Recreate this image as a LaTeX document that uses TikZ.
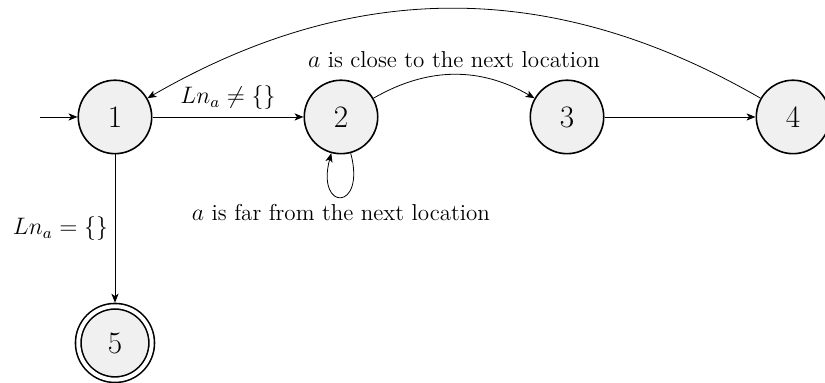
\documentclass[tikz,border=0pt]{standalone}
\usetikzlibrary{positioning,arrows.meta}

\begin{document}
\begin{tikzpicture}[node distance=4cm, auto,
    font=\fontsize{11.6}{14}\selectfont,
    loc/.style={circle, draw, thick, fill=black!6, minimum size=1.3cm, font=\fontsize{15.7}{18}\selectfont},
    final/.style={loc, double, double distance=2pt, outer sep=1.8pt},
    line/.style={draw, -{Stealth[length=4.5pt, width=3.6pt, inset=1.2pt]}}]

    \useasboundingbox (-2.035,-4.708) rectangle (12.566,2.07);

    \node [loc] (l1) at (0,0) {1};
    \node [loc, right of=l1] (l2) {2};
    \node [loc, right of=l2] (l3) {3};
    \node [loc, right of=l3] (l4) {4};
    \node [final, below of=l1] (l5) {5};
    \coordinate [left of=l1, node distance=1.33cm] (init);

    \path [line] (init) -- (l1);
    \path [line] (l1) -- node {$Ln_a \neq \{\}$} (l2);
    \path [line] (l1) -- node [swap] {$Ln_a = \{\}$} (l5);
    \path [line] (l2) to [bend left] node {$a$ is close to the next location} (l3);
    \path [line] (l2) to [loop below] node [below] {$a$ is far from the next location} (l2);
    \path [line] (l3) -- (l4);
    \path [line] (l4) to [bend right] (l1);
\end{tikzpicture}
\end{document}
